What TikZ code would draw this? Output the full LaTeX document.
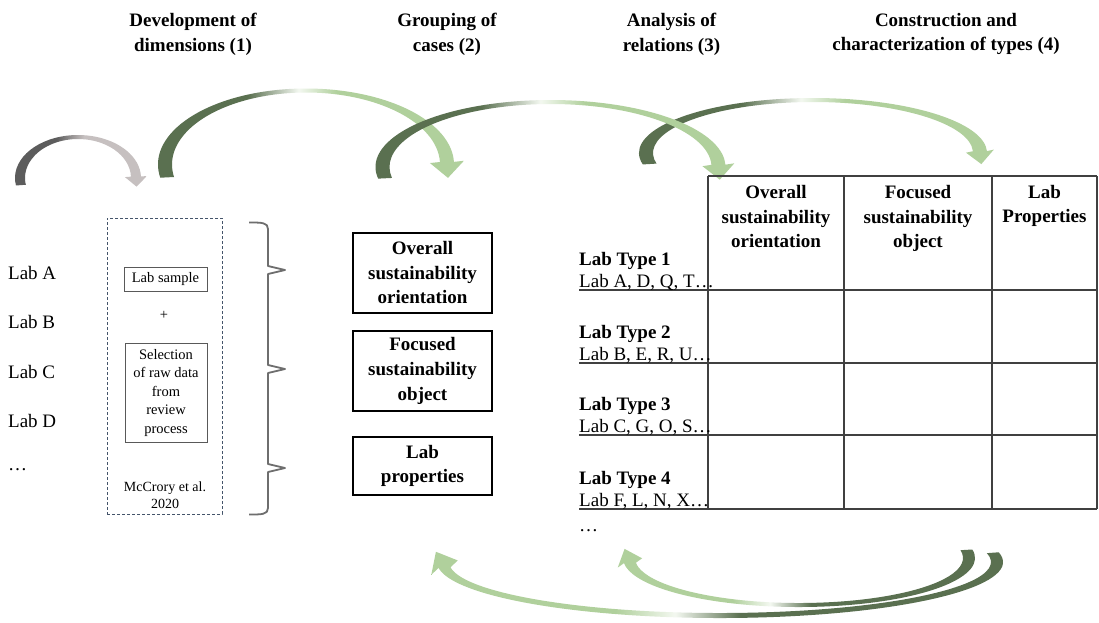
\documentclass[tikz,border=0pt]{standalone}
\usepackage{fontspec}
\setmainfont{Liberation Serif}
\definecolor{dkg}{RGB}{90,112,80}
\definecolor{lgt}{RGB}{176,208,156}
\definecolor{dkgray}{RGB}{92,92,92}
\definecolor{ltgray}{RGB}{198,192,192}
\definecolor{dashblue}{RGB}{68,84,106}
\definecolor{tabline}{RGB}{64,64,64}
\definecolor{bracegray}{RGB}{110,110,110}
\pgfdeclarehorizontalshading{topG}{100bp}{color(0bp)=(dkg); color(41bp)=(dkg); color(49bp)=(white!85!lgt); color(55bp)=(lgt); color(100bp)=(lgt)}
\pgfdeclarehorizontalshading{botG}{100bp}{color(0bp)=(lgt); color(40.5bp)=(lgt); color(45.5bp)=(white!85!lgt); color(51bp)=(dkg); color(100bp)=(dkg)}
\pgfdeclarehorizontalshading{grayG}{100bp}{color(0bp)=(dkgray); color(42bp)=(dkgray); color(52bp)=(ltgray); color(100bp)=(ltgray)}
\pgfkeys{/arcarrow/.cd,
 cx/.store in=\Acx, cy/.store in=\Acy, rxo/.store in=\Arxo, ryo/.store in=\Aryo,
 rxi/.store in=\Arxi, ryi/.store in=\Aryi, ta/.store in=\Ata, tb/.store in=\Atb,
 hw/.store in=\Ahw, hl/.store in=\Ahl}
\newcommand{\ArcArrow}[2]{%
 \pgfkeys{/arcarrow/.cd,#2}%
 \pgfmathsetmacro\Asx{\Acx+\Arxo*cos(\Ata)}%
 \pgfmathsetmacro\Asy{\Acy+\Aryo*sin(\Ata)}%
 \pgfmathsetmacro\Aox{\Acx+\Arxo*cos(\Atb)}%
 \pgfmathsetmacro\Aoy{\Acy+\Aryo*sin(\Atb)}%
 \pgfmathsetmacro\Aix{\Acx+\Arxi*cos(\Atb)}%
 \pgfmathsetmacro\Aiy{\Acy+\Aryi*sin(\Atb)}%
 \pgfmathsetmacro\Abx{(\Aox+\Aix)/2}%
 \pgfmathsetmacro\Aby{(\Aoy+\Aiy)/2}%
 \pgfmathsetmacro\Asg{sign(\Atb-\Ata)}%
 \pgfmathsetmacro\Atx{-\Asg*(\Arxo+\Arxi)/2*sin(\Atb)}%
 \pgfmathsetmacro\Aty{\Asg*(\Aryo+\Aryi)/2*cos(\Atb)}%
 \pgfmathsetmacro\Atl{veclen(\Atx,\Aty)}%
 \pgfmathsetmacro\Aux{\Atx/\Atl}%
 \pgfmathsetmacro\Auy{\Aty/\Atl}%
 \pgfmathsetmacro\Adot{(\Aox-\Abx)*(-\Auy)+(\Aoy-\Aby)*\Aux}%
 \pgfmathsetmacro\Asn{sign(\Adot)}%
 \pgfmathsetmacro\Aocx{\Abx-\Asn*\Ahw*\Auy}%
 \pgfmathsetmacro\Aocy{\Aby+\Asn*\Ahw*\Aux}%
 \pgfmathsetmacro\Aicx{\Abx+\Asn*\Ahw*\Auy}%
 \pgfmathsetmacro\Aicy{\Aby-\Asn*\Ahw*\Aux}%
 \pgfmathsetmacro\Atipx{\Abx+\Ahl*\Aux}%
 \pgfmathsetmacro\Atipy{\Aby+\Ahl*\Auy}%
 \shade[shading=#1] (\Asx,\Asy) arc[start angle=\Ata, end angle=\Atb, x radius=\Arxo, y radius=\Aryo]
   -- (\Aocx,\Aocy) -- (\Atipx,\Atipy) -- (\Aicx,\Aicy) -- (\Aix,\Aiy)
   arc[start angle=\Atb, end angle=\Ata, x radius=\Arxi, y radius=\Aryi] -- cycle;
}
\tikzset{
 reg/.style={inner sep=0pt, font=\fontsize{19}{24.7}\selectfont},
 bld/.style={inner sep=0pt, font=\fontsize{19}{24.7}\selectfont\bfseries},
 hdr/.style={bld, align=center},
 smalltxt/.style={inner sep=0pt, font=\fontsize{14.5}{18.5}\selectfont, align=center},
 smallbox/.style={smalltxt, draw=black!65, line width=0.8pt},
 midbox/.style={bld, align=center, draw=black, line width=2pt, minimum width=139pt},
 dbox/.style={draw=dashblue, line width=1pt, dash pattern=on 3pt off 2pt},
 tab/.style={draw=tabline, line width=1.3pt},
 bracestyle/.style={draw=bracegray, line width=1.8pt, line join=round},
}
\begin{document}
\begin{tikzpicture}[x=1pt,y=-1pt]
\useasboundingbox (0,0) rectangle (1099,622);
\fill[white] (0,0) rectangle (1099,622);

% column headers
\node[hdr] (h1) at (193,34) {Development of\\dimensions (1)};
\node[hdr] (h2) at (447,34) {Grouping of\\cases (2)};
\node[hdr] (h3) at (671.5,34) {Analysis of\\relations (3)};
\node[hdr] (h4) at (946,34) {Construction and\\characterization of types (4)};

% curved arrows (top)
\ArcArrow{grayG}{cx=78,cy=178,rxo=63,ryo=43,rxi=53,ryi=39,ta=170,tb=358,hw=11,hl=10}
\ArcArrow{topG}{cx=306,cy=164.5,rxo=148,ryo=76,rxi=134,ryi=72,ta=170,tb=358,hw=17,hl=16}
\ArcArrow{topG}{cx=813,cy=153,rxo=174,ryo=55,rxi=160,ryi=51,ta=168,tb=358,hw=14,hl=13}
\ArcArrow{topG}{cx=550.5,cy=167,rxo=175,ryo=67,rxi=161,ryi=63,ta=170,tb=358,hw=16,hl=15}

% curved arrows (bottom)
\ArcArrow{botG}{cx=720,cy=562,rxo=283,ryo=56,rxi=271,ryi=51,ta=-10,tb=174,hw=15,hl=18}
\ArcArrow{botG}{cx=799,cy=558,rxo=176,ryo=49,rxi=164,ryi=45,ta=-10,tb=174,hw=13,hl=15}

% left labels
\node[reg, anchor=base west] (la) at (8,279) {Lab A};
\node[reg, anchor=base west] (lb) at (8,328.5) {Lab B};
\node[reg, anchor=base west] (lc) at (8,378) {Lab C};
\node[reg, anchor=base west] (ld) at (8,427) {Lab D};
\node[reg, anchor=base west] (le) at (8,470) {…};

% dashed box and its content
\node[dbox, minimum width=115pt, minimum height=296pt, inner sep=0pt] (dash) at (164.5,366) {};
\node[smallbox, minimum width=83pt, minimum height=24pt] (sample) at (165.5,279) {Lab sample};
\node[smalltxt] (plus) at (164,315) {+};
\node[smallbox, minimum width=82pt, minimum height=99pt] (sel) at (166,393) {Selection\\of raw data\\from\\review\\process};
\node[smalltxt, font=\fontsize{14}{17}\selectfont] (mcc) at (165,495) {McCrory et al.\\2020};

% brace
\draw[bracestyle] (249,222.5) .. controls (262,222.5) and (268,222.5) .. (268,229)
  -- (268,266) -- (285,270) -- (268,274)
  -- (268,365) -- (285,369) -- (268,373)
  -- (268,464) -- (285,468) -- (268,472)
  -- (268,508) .. controls (268,514.5) and (262,514.5) .. (249,514.5);

% middle boxes
\node[midbox, minimum height=80pt] (b1) at (422.5,272.5) {Overall\\sustainability\\orientation};
\node[midbox, minimum height=80pt] (b2) at (422.5,371) {Focused\\sustainability\\object};
\node[midbox, minimum height=58pt] (b3) at (422.5,466) {Lab\\properties};

% table
\draw[tab] (708,176) -- (1097,176);
\foreach \yy in {290,363,435,509} { \draw[tab] (579,\yy) -- (1097,\yy); }
\foreach \xx in {708,844,992,1097} { \draw[tab] (\xx,176) -- (\xx,509); }

\node[hdr] (c1) at (776,216.5) {Overall\\sustainability\\orientation};
\node[hdr] (c2) at (918,218.5) {Focused\\sustainability\\object};
\node[hdr] (c3) at (1044.5,206) {Lab\\Properties};

\node[bld, anchor=base west] (t1) at (579,265) {Lab Type 1};
\node[reg, anchor=base west] (l1) at (579,287) {Lab A, D, Q, T…};
\node[bld, anchor=base west] (t2) at (579,338) {Lab Type 2};
\node[reg, anchor=base west] (l2) at (579,360) {Lab B, E, R, U…};
\node[bld, anchor=base west] (t3) at (579,410) {Lab Type 3};
\node[reg, anchor=base west] (l3) at (579,432) {Lab C, G, O, S…};
\node[bld, anchor=base west] (t4) at (579,484) {Lab Type 4};
\node[reg, anchor=base west] (l4) at (579,506) {Lab F, L, N, X…};
\node[reg, anchor=base west] (l5) at (579,531) {…};
\end{tikzpicture}
\end{document}
